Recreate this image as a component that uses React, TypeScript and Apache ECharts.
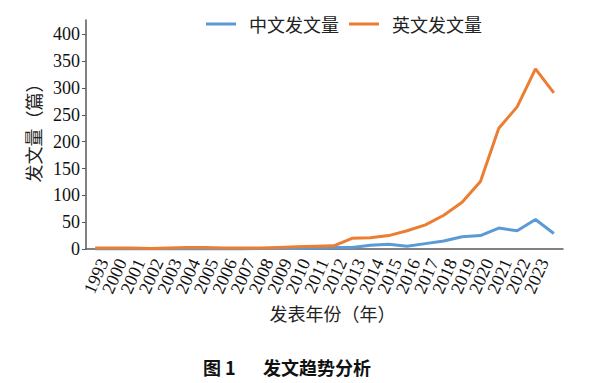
import React, { useEffect, useRef } from "react";
import * as echarts from "echarts";

const years = [
  "1993", "2000", "2001", "2002", "2003", "2004", "2005", "2006", "2007",
  "2008", "2009", "2010", "2011", "2012", "2013", "2014", "2015", "2016",
  "2017", "2018", "2019", "2020", "2021", "2022", "2023", "2024",
];
// last category (2024) has no visible label in the reference
const hiddenLabelIndex = 25;

const chineseCounts = [
  0, 0, 0, 0, 0, 0, 0, 0, 0, 1, 1, 1, 2, 3, 3, 7, 9, 5, 10, 15, 23, 25, 39, 34, 55, 29,
];
const englishCounts = [
  2, 2, 2, 1, 2, 3, 3, 2, 2, 2, 3, 4, 5, 6, 20, 21, 25, 34, 45, 63, 87, 126, 225, 265, 336, 291,
];

const seriesNames = ["中文发文量", "英文发文量"];
const yTicks = { min: 0, max: 427, interval: 50 };

const SERIF = "'Liberation Serif', 'Times New Roman', 'Noto Sans CJK SC', serif";
const CJK = "'Noto Sans CJK SC', sans-serif";

export default function App() {
  const ref = useRef<HTMLDivElement>(null);
  useEffect(() => {
    document.body.style.margin = "0";
    if (!ref.current) return;
    const chart = echarts.init(ref.current, undefined, { renderer: "svg" });
    chart.setOption({
      animation: false,
      backgroundColor: "#ffffff",
      title: [
        {
          text: "图 1",
          left: 198,
          top: 353,
          textStyle: { fontFamily: CJK, fontSize: 18, fontWeight: "bold", color: "#111" },
        },
        {
          text: "发文趋势分析",
          left: 258,
          top: 353,
          textStyle: { fontFamily: CJK, fontSize: 18, fontWeight: "bold", color: "#111" },
        },
      ],
      legend: {
        left: 201,
        top: 10,
        icon: "rect",
        itemWidth: 30,
        itemHeight: 3,
        itemGap: 10,
        textStyle: {
          fontFamily: CJK,
          fontSize: 18,
          color: "#222",
          padding: [0, 0, 0, 8],
        },
        data: seriesNames,
      },
      grid: { left: 86, right: 30, top: 20, bottom: 134, containLabel: false },
      xAxis: {
        type: "category",
        data: years,
        boundaryGap: true,
        axisLine: { lineStyle: { color: "#595959", width: 1.5 } },
        axisTick: { show: false },
        axisLabel: {
          rotate: 66,
          interval: 0,
          showMinLabel: true,
          showMaxLabel: false,
          formatter: (v: string, i: number) => (i === hiddenLabelIndex ? "" : v),
          margin: 7,
          verticalAlign: "top",
          fontFamily: SERIF,
          fontSize: 18,
          color: "#111",
        },
        name: "发表年份（年）",
        nameLocation: "middle",
        nameGap: 50,
        nameTextStyle: { fontFamily: CJK, fontSize: 18, color: "#222", padding: [0, 0, 0, 16] },
      },
      yAxis: {
        type: "value",
        min: yTicks.min,
        max: yTicks.max,
        interval: yTicks.interval,
        splitLine: { show: false },
        axisLine: { show: true, lineStyle: { color: "#595959", width: 1.5 } },
        axisTick: { show: true, length: 4, lineStyle: { color: "#595959" } },
        axisLabel: {
          showMaxLabel: false,
          margin: 6,
          fontFamily: SERIF,
          fontSize: 18,
          color: "#111",
        },
        name: "发文量（篇）",
        nameLocation: "middle",
        nameGap: 34,
        nameTextStyle: { fontFamily: CJK, fontSize: 18, color: "#222", padding: [0, 0, 0, 12] },
      },
      series: [
        {
          name: seriesNames[0],
          type: "line",
          data: chineseCounts,
          symbol: "none",
          lineStyle: { color: "#5B9BD5", width: 3 },
          itemStyle: { color: "#5B9BD5" },
        },
        {
          name: seriesNames[1],
          type: "line",
          data: englishCounts,
          symbol: "none",
          lineStyle: { color: "#ED7D31", width: 3 },
          itemStyle: { color: "#ED7D31" },
        },
      ],
    });
    return () => chart.dispose();
  }, []);
  return <div ref={ref} style={{ width: 593, height: 383 }} />;
}
